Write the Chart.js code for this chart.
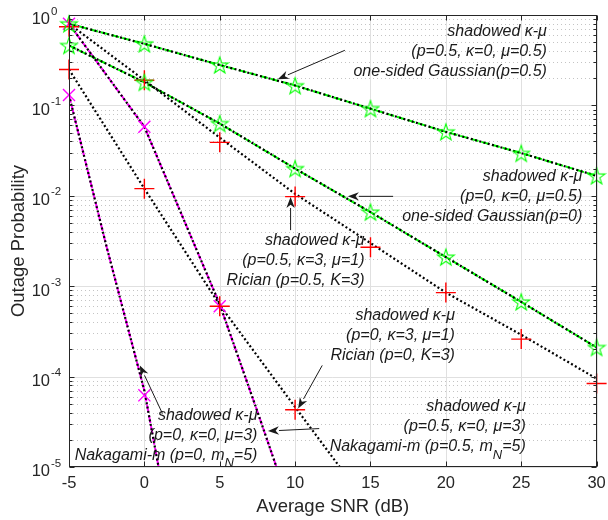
<!DOCTYPE html>
<html>
<head>
<meta charset="utf-8">
<script src="https://cdn.jsdelivr.net/npm/chart.js@4.4.1/dist/chart.umd.min.js"></script>
<style>
  html, body { margin: 0; padding: 0; background: #fff; }
  canvas { display: block; }
</style>
</head>
<body>
<canvas id="chart" width="608" height="520"></canvas>
<script>
// outage probability vs average SNR, log y axis, MATLAB-like look

const snrTicks = [-5, 0, 5, 10, 15, 20, 25, 30];
const decadeExps = [0, -1, -2, -3, -4, -5];

// simulation markers, every 5 dB
const snrMarks = [-5, 0, 5, 10, 15, 20, 25, 30];
const gaussP05Sim = [0.8, 0.48, 0.28, 0.165, 0.092, 0.051, 0.0295, 0.0166];
const gaussP0Sim = [0.46, 0.18, 0.063, 0.020, 0.0066, 0.0021, 0.00067, 0.00021];
const ricianP05Sim = [0.74, 0.19, 0.039, 0.0098, 0.0027, 0.00085, 0.00026, 0.000084];
const ricianP0Snr = [-5, 0, 5, 10];
const ricianP0Sim = [0.25, 0.012, 0.0006, 0.000043];
const nakaP05Snr = [-5, 0, 5];
const nakaP05Sim = [0.8, 0.058, 0.0006];
const nakaP0Snr = [-5, 0];
const nakaP0Sim = [0.13, 0.000062];

// analytical shadowed kappa-mu curves
const kmuA = [0.8, 0.48, 0.28, 0.166, 0.092, 0.051, 0.0297, 0.0166];        // p=0.5, k=0, mu=0.5
const kmuB = [0.46, 0.18, 0.063, 0.020, 0.0066, 0.0021, 0.00067, 0.00021];  // p=0, k=0, mu=0.5
const kmuC = [0.8, 0.19, 0.044, 0.0105, 0.0030, 0.00085, 0.00029, 0.000095]; // p=0.5, k=3, mu=1
const kmuDSnr = [-5, 0, 5, 10, 15];
const kmuD = [0.25, 0.012, 0.00062, 0.000046, 0.0000035];                  // p=0, k=3, mu=1
const kmuESnr = [-5, 0, 5, 7.5, 10];
const kmuE = [0.8, 0.058, 0.00063, 0.000041, 0.0000025];                   // p=0.5, k=0, mu=3
const kmuFSnr = [-5, -2.5, 0, 2.5];
const kmuF = [0.13, 0.0027, 0.00007, 0.0000004];                            // p=0, k=0, mu=3

const FONT = '"Liberation Sans", Arial, Helvetica, sans-serif';
const INK = '#262626';

const pts = (xs, ys) => xs.map((x, i) => ({ x, y: ys[i] }));

// open pentagram used as point style
function pentagram(color) {
  const c = document.createElement('canvas');
  c.width = 20; c.height = 20;
  const g = c.getContext('2d');
  g.strokeStyle = color; g.lineWidth = 1.1;
  g.beginPath();
  for (let i = 0; i < 10; i++) {
    const r = i % 2 ? 3.4 : 8.8;
    const a = -Math.PI / 2 + i * Math.PI / 5;
    const px = 10 + r * Math.cos(a), py = 10.8 + r * Math.sin(a);
    i ? g.lineTo(px, py) : g.moveTo(px, py);
  }
  g.closePath(); g.stroke();
  return c;
}
const greenStar = pentagram('#00ff00');

function curve(xs, ys, color, dash, width, order) {
  return { data: pts(xs, ys), showLine: true, borderColor: color, borderWidth: width, borderDash: dash,
           pointRadius: 0, fill: false, order };
}
function marks(xs, ys, style, color, radius) {
  return { data: pts(xs, ys), showLine: false, pointStyle: style, pointRadius: radius, clip: false,
           pointBorderColor: color, pointBackgroundColor: 'rgba(0,0,0,0)', pointBorderWidth: 1.4, order: 0 };
}

const dotted = [2, 2.4];
const dashed = [8, 3];

const datasets = [
  curve(snrMarks, kmuA, '#00ff00', dashed, 2, 2),
  curve(snrMarks, kmuB, '#00ff00', dashed, 2, 2),
  curve(kmuESnr, kmuE, '#ff00ff', dashed, 2, 2),
  curve(kmuFSnr, kmuF, '#ff00ff', dashed, 2, 2),
  curve(snrMarks, kmuA, '#000000', dotted, 2.2, 1),
  curve(snrMarks, kmuB, '#000000', dotted, 2.2, 1),
  curve(snrMarks, kmuC, '#000000', dotted, 2.2, 1),
  curve(kmuDSnr, kmuD, '#000000', dotted, 2.2, 1),
  curve(kmuESnr, kmuE, '#000000', dotted, 2.2, 1),
  curve(kmuFSnr, kmuF, '#000000', dotted, 2.2, 1),
  marks(snrMarks, gaussP05Sim, greenStar, '#00ff00', 8),
  marks(snrMarks, gaussP0Sim, greenStar, '#00ff00', 8),
  marks(snrMarks, ricianP05Sim, 'cross', '#ff0000', 10),
  marks(ricianP0Snr, ricianP0Sim, 'cross', '#ff0000', 10),
  marks(nakaP05Snr, nakaP05Sim, 'crossRot', '#ff00ff', 8.5),
  marks(nakaP0Snr, nakaP0Sim, 'crossRot', '#ff00ff', 8.5)
];

// text annotations: right edge (dB), first line centre (prob), arrow from -> to
const notes = [
  { right: 26.7, top: 0.649, lines: [['shadowed κ-μ'], ['(p=0.5, κ=0, μ=0.5)'], ['one-sided Gaussian(p=0.5)']],
    arrow: [13.3, 0.407, 8.85, 0.195] },
  { right: 29.05, top: 0.01644, lines: [['shadowed κ-μ'], ['(p=0, κ=0, μ=0.5)'], ['one-sided Gaussian(p=0)']],
    arrow: [16.5, 0.00986, 13.5, 0.00986] },
  { right: 14.6, top: 0.00316, lines: [['shadowed κ-μ'], ['(p=0.5, κ=3, μ=1)'], ['Rician (p=0.5, K=3)']],
    arrow: [9.7, 0.00417, 9.7, 0.0097] },
  { right: 20.6, top: 0.000479, lines: [['shadowed κ-μ'], ['(p=0, κ=3, μ=1)'], ['Rician (p=0, K=3)']],
    arrow: [11.8, 0.000133, 10.2, 0.0000443] },
  { right: 25.3, top: 0.0000461, lines: [['shadowed κ-μ'], ['(p=0.5, κ=0, μ=3)'], ['Nakagami-m (p=0.5, m', { sub: 'N' }, '=5)']],
    arrow: [11.6, 0.0000266, 8.2, 0.000025] },
  { right: 7.5, top: 0.0000373, lines: [['shadowed κ-μ'], ['(p=0, κ=0, μ=3)'], ['Nakagami-m (p=0, m', { sub: 'N' }, '=5)']],
    arrow: [1.2, 0.000039, -0.3, 0.000133] }
];

function drawArrow(ctx, x1, y1, x2, y2) {
  const ang = Math.atan2(y2 - y1, x2 - x1);
  const len = 11, half = 4.2;
  const bx = x2 - len * Math.cos(ang), by = y2 - len * Math.sin(ang);
  const nx = -Math.sin(ang), ny = Math.cos(ang);
  ctx.beginPath(); ctx.moveTo(x1, y1); ctx.lineTo(bx, by); ctx.stroke();
  ctx.beginPath();
  ctx.moveTo(x2, y2);
  ctx.lineTo(bx + nx * half, by + ny * half);
  ctx.lineTo(x2 - 0.7 * len * Math.cos(ang), y2 - 0.7 * len * Math.sin(ang));
  ctx.lineTo(bx - nx * half, by - ny * half);
  ctx.closePath(); ctx.fill();
}

function drawRuns(ctx, runs, right, cy) {
  const main = 'italic 16px ' + FONT, small = 'italic 13px ' + FONT;
  const widths = runs.map(r => { ctx.font = typeof r === 'string' ? main : small; return ctx.measureText(typeof r === 'string' ? r : r.sub).width; });
  let x = right - widths.reduce((s, w) => s + w, 0);
  runs.forEach((r, i) => {
    if (typeof r === 'string') { ctx.font = main; ctx.fillText(r, x, cy); }
    else { ctx.font = small; ctx.fillText(r.sub, x, cy + 8); }
    x += widths[i];
  });
}

const matlabFrame = {
  id: 'matlabFrame',
  beforeDatasetsDraw(chart) {
    const { ctx, chartArea: a, scales: { x, y } } = chart;
    ctx.save();
    ctx.lineWidth = 1;
    // minor dotted grid
    ctx.strokeStyle = '#c4c4c4';
    ctx.setLineDash([1, 3]);
    decadeExps.slice(1).forEach(e => {
      for (let k = 2; k <= 9; k++) {
        const py = Math.round(y.getPixelForValue(k * Math.pow(10, e))) + 0.5;
        ctx.beginPath(); ctx.moveTo(a.left, py); ctx.lineTo(a.right, py); ctx.stroke();
      }
    });
    // major grid
    ctx.setLineDash([]);
    ctx.strokeStyle = '#e0e0e0';
    decadeExps.forEach(e => {
      const py = Math.round(y.getPixelForValue(Math.pow(10, e))) + 0.5;
      ctx.beginPath(); ctx.moveTo(a.left, py); ctx.lineTo(a.right, py); ctx.stroke();
    });
    snrTicks.forEach(v => {
      const px = Math.round(x.getPixelForValue(v)) + 0.5;
      ctx.beginPath(); ctx.moveTo(px, a.top); ctx.lineTo(px, a.bottom); ctx.stroke();
    });
    ctx.restore();
  },
  afterDatasetsDraw(chart) {
    const { ctx, chartArea: a, scales: { x, y } } = chart;
    ctx.save();
    ctx.strokeStyle = INK; ctx.fillStyle = INK; ctx.lineWidth = 1;
    const L = a.left + 0.5, R = Math.round(a.right) - 0.5, T = Math.round(a.top) + 0.5, B = Math.round(a.bottom) - 0.5;
    ctx.strokeRect(L, T, R - L, B - T);

    // ticks
    ctx.beginPath();
    decadeExps.forEach(e => {
      const py = Math.round(y.getPixelForValue(Math.pow(10, e))) + 0.5;
      ctx.moveTo(L, py); ctx.lineTo(L + 5, py); ctx.moveTo(R, py); ctx.lineTo(R - 5, py);
      if (e < 0) for (let k = 2; k <= 9; k++) {
        const q = Math.round(y.getPixelForValue(k * Math.pow(10, e))) + 0.5;
        ctx.moveTo(L, q); ctx.lineTo(L + 3, q); ctx.moveTo(R, q); ctx.lineTo(R - 3, q);
      }
    });
    snrTicks.forEach(v => {
      const px = Math.round(x.getPixelForValue(v)) + 0.5;
      ctx.moveTo(px, B); ctx.lineTo(px, B - 5); ctx.moveTo(px, T); ctx.lineTo(px, T + 5);
    });
    ctx.stroke();

    // y tick labels 10^e
    decadeExps.forEach(e => {
      const py = y.getPixelForValue(Math.pow(10, e));
      ctx.textBaseline = 'alphabetic';
      ctx.textAlign = 'right';
      ctx.font = '16.5px ' + FONT;
      ctx.fillText('10', a.left - 19, py + 9.3);
      ctx.textAlign = 'left';
      ctx.font = '11.5px ' + FONT;
      ctx.fillText(String(e), a.left - 18, py - 0.5);
    });

    // x tick labels
    ctx.font = '16.5px ' + FONT;
    ctx.textAlign = 'center'; ctx.textBaseline = 'middle';
    snrTicks.forEach(v => ctx.fillText(String(v), x.getPixelForValue(v), a.bottom + 16.5));

    // axis titles
    ctx.font = '18.5px ' + FONT;
    ctx.fillText('Average SNR (dB)', (a.left + a.right) / 2, a.bottom + 40);
    ctx.save();
    ctx.translate(19, (a.top + a.bottom) / 2);
    ctx.rotate(-Math.PI / 2);
    ctx.fillText('Outage Probability', 0, 0);
    ctx.restore();

    // annotations
    ctx.fillStyle = '#1a1a1a'; ctx.strokeStyle = '#1a1a1a';
    ctx.textAlign = 'left'; ctx.textBaseline = 'middle';
    notes.forEach(n => {
      const right = x.getPixelForValue(n.right);
      const top = y.getPixelForValue(n.top);
      n.lines.forEach((runs, i) => drawRuns(ctx, runs, right, top + i * 20));
      const [x1, y1, x2, y2] = n.arrow;
      drawArrow(ctx, x.getPixelForValue(x1), y.getPixelForValue(y1), x.getPixelForValue(x2), y.getPixelForValue(y2));
    });
    ctx.restore();
  }
};

new Chart(document.getElementById('chart'), {
  type: 'scatter',
  data: { datasets },
  options: {
    responsive: false,
    animation: false,
    devicePixelRatio: 1,
    events: [],
    layout: { padding: { left: 69, top: 15, right: 10, bottom: 53 } },
    plugins: { legend: { display: false }, tooltip: { enabled: false } },
    scales: {
      x: { type: 'linear', min: -5, max: 30, display: false },
      y: { type: 'logarithmic', min: 1e-5, max: 1, display: false }
    }
  },
  plugins: [matlabFrame]
});
</script>
</body>
</html>
